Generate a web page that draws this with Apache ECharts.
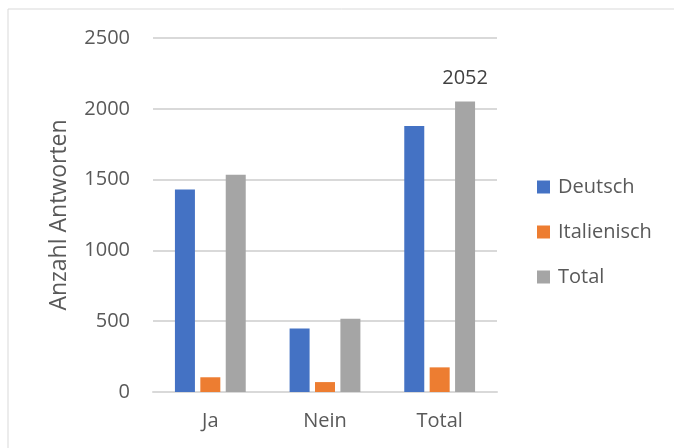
<!DOCTYPE html>
<html>
<head>
<meta charset="utf-8">
<script src="https://cdn.jsdelivr.net/npm/echarts@6/dist/echarts.min.js"></script>
<style>
  html, body { margin: 0; padding: 0; background: #fff; }
  #chart { width: 674px; height: 448px; }
</style>
</head>
<body>
<div id="chart"></div>
<script>
// categories and values
const categories = ['Ja', 'Nein', 'Total'];
const deutsch = [1430, 448, 1878];
const italienisch = [104, 70, 174];
const total = [1534, 518, 2052];
const yTicks = { min: 0, max: 2500, step: 500 };

const font = 'Open Sans';
const textGray = '#595959';

const chart = echarts.init(document.getElementById('chart'));

chart.setOption({
    animation: false,
    textStyle: { fontFamily: font },
    graphic: [{
        type: 'rect',
        shape: { x: 8, y: 9, width: 700, height: 460 },
        style: { fill: 'none', stroke: '#d9d9d9', lineWidth: 1 },
        silent: true
    }],
    grid: { left: 153, right: 177, top: 38, bottom: 56 },
    legend: {
        orient: 'vertical',
        left: 532, top: 172,
        itemWidth: 13, itemHeight: 13,
        itemGap: 25,
        icon: 'rect',
        textStyle: { fontFamily: font, fontSize: 20, color: textGray, padding: [0, 0, 0, 3] },
        data: ['Deutsch', 'Italienisch', 'Total']
    },
    xAxis: {
        type: 'category',
        data: categories,
        axisLine: { lineStyle: { color: '#d9d9d9', width: 2 } },
        axisTick: { show: false },
        axisLabel: { fontFamily: font, fontSize: 20, color: textGray, margin: 19 }
    },
    yAxis: {
        type: 'value',
        min: yTicks.min, max: yTicks.max, interval: yTicks.step,
        name: 'Anzahl Antworten',
        nameLocation: 'middle',
        nameGap: 82,
        nameTextStyle: { fontFamily: font, fontSize: 23, color: textGray },
        axisLine: { show: false },
        axisTick: { show: false },
        axisLabel: { fontFamily: font, fontSize: 20, color: textGray, margin: 23,
                     formatter: v => String(v) },
        splitLine: { lineStyle: { color: '#d9d9d9', width: 2 } }
    },
    series: [
        { name: 'Deutsch', type: 'bar', data: deutsch, barWidth: 20, barGap: '27%',
          itemStyle: { color: '#4472C4' } },
        { name: 'Italienisch', type: 'bar', data: italienisch, barWidth: 20, barGap: '27%',
          itemStyle: { color: '#ED7D31' } },
        { name: 'Total', type: 'bar', data: total, barWidth: 20, barGap: '27%',
          itemStyle: { color: '#A5A5A5' },
          label: {
              show: true, position: 'top', distance: 13,
              fontFamily: font, fontSize: 20, color: '#404040',
              formatter: p => p.dataIndex === 2 ? String(p.value) : ''
          } }
    ]
});
</script>
</body>
</html>
